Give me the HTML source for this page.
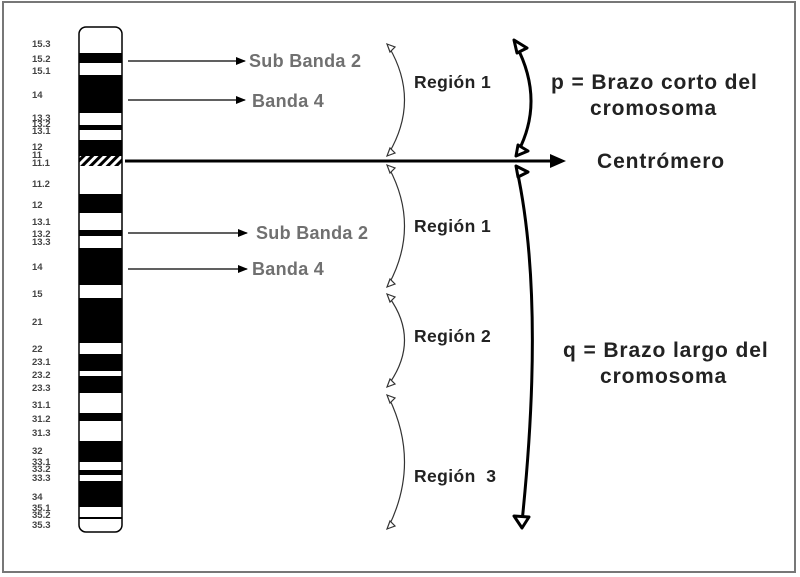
<!DOCTYPE html>
<html><head><meta charset="utf-8"><style>
html,body{margin:0;padding:0;background:#fff;}
svg{display:block;}
.lb{font-family:"Liberation Sans",sans-serif;font-weight:bold;font-size:9.5px;fill:#444;}
.g{font-family:"Liberation Sans",sans-serif;font-weight:bold;font-size:18px;letter-spacing:0.3px;fill:#707070;}
.r{font-family:"Liberation Sans",sans-serif;font-weight:bold;font-size:17.5px;letter-spacing:0.4px;fill:#222;}
.big{font-family:"Liberation Sans",sans-serif;font-weight:bold;font-size:21px;letter-spacing:0.9px;fill:#222;}
</style></head><body>
<svg width="800" height="577" viewBox="0 0 800 577" xmlns="http://www.w3.org/2000/svg">
<defs>
<pattern id="h" width="6" height="6" patternUnits="userSpaceOnUse" patternTransform="rotate(45)">
<rect width="6" height="6" fill="#fff"/><rect width="3" height="6" fill="#000"/></pattern>
<marker id="fa" markerWidth="10" markerHeight="8" refX="9" refY="4" orient="auto" markerUnits="userSpaceOnUse"><path d="M0,0 L10,4 L0,8 Z" fill="#000"/></marker>
</defs>
<rect x="3" y="2" width="792" height="570" fill="#fff" stroke="#777" stroke-width="2"/>
<g fill="#000">
<rect x="79" y="53" width="43" height="10"/>
<rect x="79" y="75" width="43" height="38"/>
<rect x="79" y="125" width="43" height="5"/>
<rect x="79" y="140" width="43" height="16"/>
<rect x="79" y="156" width="43" height="10" fill="url(#h)"/>
<rect x="79" y="194" width="43" height="19"/>
<rect x="79" y="230" width="43" height="6"/>
<rect x="79" y="248" width="43" height="37"/>
<rect x="79" y="298" width="43" height="45"/>
<rect x="79" y="354" width="43" height="17"/>
<rect x="79" y="376" width="43" height="17"/>
<rect x="79" y="413" width="43" height="8"/>
<rect x="79" y="441" width="43" height="21"/>
<rect x="79" y="470" width="43" height="5"/>
<rect x="79" y="481" width="43" height="26"/>
<rect x="79" y="517" width="43" height="2"/>
</g>
<rect x="79" y="27" width="43" height="505" rx="7" fill="none" stroke="#000" stroke-width="1.5"/>
<g class="lb">
<text x="32" y="47">15.3</text><text x="32" y="62">15.2</text><text x="32" y="74">15.1</text>
<text x="32" y="98">14</text><text x="32" y="121">13.3</text><text x="32" y="127">13.2</text><text x="32" y="134">13.1</text>
<text x="32" y="150">12</text><text x="32" y="158">11</text><text x="32" y="166">11.1</text>
<text x="32" y="187">11.2</text><text x="32" y="208">12</text><text x="32" y="225">13.1</text>
<text x="32" y="237">13.2</text><text x="32" y="245">13.3</text><text x="32" y="270">14</text>
<text x="32" y="297">15</text><text x="32" y="325">21</text><text x="32" y="352">22</text>
<text x="32" y="365">23.1</text><text x="32" y="378">23.2</text><text x="32" y="391">23.3</text>
<text x="32" y="408">31.1</text><text x="32" y="422">31.2</text><text x="32" y="436">31.3</text>
<text x="32" y="454">32</text><text x="32" y="465">33.1</text><text x="32" y="472">33.2</text><text x="32" y="481">33.3</text>
<text x="32" y="500">34</text><text x="32" y="511">35.1</text><text x="32" y="518">35.2</text><text x="32" y="528">35.3</text>
</g>
<g stroke="#000" stroke-width="1.3" marker-end="url(#fa)">
<line x1="128" y1="61" x2="245" y2="61"/>
<line x1="128" y1="100" x2="245" y2="100"/>
<line x1="128" y1="233" x2="247" y2="233"/>
<line x1="128" y1="269" x2="247" y2="269"/>
</g>
<text class="g" x="249" y="67">Sub Banda 2</text>
<text class="g" x="252" y="107">Banda 4</text>
<text class="g" x="256" y="239">Sub Banda 2</text>
<text class="g" x="252" y="275">Banda 4</text>
<g fill="none" stroke="#333" stroke-width="1.2">
<path d="M389,47 Q420,100 389,153"/>
<path d="M389,168 Q420,226 389,284"/>
<path d="M389,297 Q420,340 389,384"/>
<path d="M389,398 Q420,462 389,526"/>
</g>
<g fill="#fff" stroke="#333" stroke-width="1.2">
<path d="M387,44 l8,3 l-5,5 z"/><path d="M387,156 l8,-3 l-5,-5 z"/>
<path d="M387,165 l8,3 l-5,5 z"/><path d="M387,287 l8,-3 l-5,-5 z"/>
<path d="M387,294 l8,3 l-5,5 z"/><path d="M387,387 l8,-3 l-5,-5 z"/>
<path d="M387,395 l8,3 l-5,5 z"/><path d="M387,529 l8,-3 l-5,-5 z"/>
</g>
<text class="r" x="414" y="88">Región 1</text>
<text class="r" x="414" y="232">Región 1</text>
<text class="r" x="414" y="342">Región 2</text>
<text class="r" x="414" y="482">Región&#160;&#160;3</text>
<line x1="125" y1="161" x2="553" y2="161" stroke="#000" stroke-width="3"/>
<path d="M566,161 L550,154 L550,168 Z" fill="#000"/>
<g fill="none" stroke="#000" stroke-width="3">
<path d="M516,45 Q545,100 518,152"/>
<path d="M517,170 Q545,300 522,522"/>
</g>
<g fill="#fff" stroke="#000" stroke-width="3" stroke-linejoin="round">
<path d="M514,40 l13,8 l-10,5 z"/>
<path d="M516,156 l12,-5 l-10,-6 z"/>
<path d="M516,166 l12,6 l-10,5 z"/>
<path d="M522,528 l-8,-12 l15,1 z"/>
</g>
<text class="big" x="551" y="89">p = Brazo corto del</text>
<text class="big" x="590" y="115">cromosoma</text>
<text class="big" x="597" y="168">Centrómero</text>
<text class="big" x="563" y="357">q = Brazo largo del</text>
<text class="big" x="600" y="383">cromosoma</text>
</svg>
</body></html>
